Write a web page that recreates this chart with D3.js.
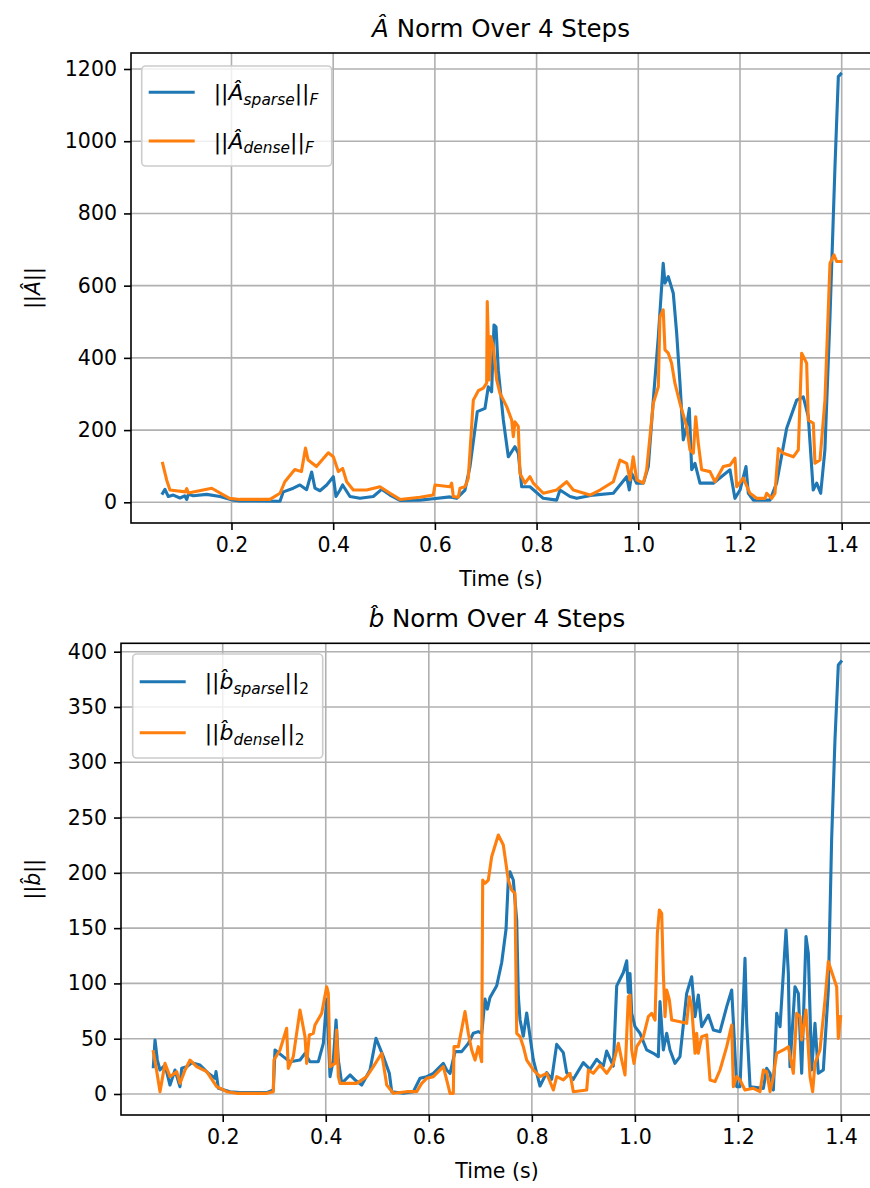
<!DOCTYPE html>
<html><head><meta charset="utf-8">
<script src="https://cdn.jsdelivr.net/npm/d3@7"></script>
<style>body{margin:0;background:#fff;} svg text{font-family:"DejaVu Sans",sans-serif;fill:#000;}</style>
</head><body><svg id="c" width="870" height="1188"></svg>
<script>
// ---------- DATA ----------
const xTicks = [0.2, 0.4, 0.6, 0.8, 1.0, 1.2, 1.4];
const aYTicks = [0, 200, 400, 600, 800, 1000, 1200];
const bYTicks = [0, 50, 100, 150, 200, 250, 300, 350, 400];

const aSparseT = [0.0646,0.0692,0.0758,0.0856,0.0987,0.108,0.112,0.1151,0.1249,0.1512,0.1774,0.2036,0.2167,0.2954,0.3019,0.3216,0.3347,0.3478,0.3577,0.3642,0.374,0.3872,0.4003,0.4055,0.4134,0.4186,0.433,0.4527,0.4789,0.4953,0.5117,0.5314,0.5707,0.5969,0.6297,0.6428,0.6592,0.669,0.6834,0.6985,0.705,0.7116,0.7162,0.7202,0.7247,0.7346,0.7444,0.7575,0.764,0.7707,0.787,0.8132,0.8395,0.846,0.8657,0.8788,0.9115,0.9509,0.9772,0.9823,0.987,0.9968,1.010,1.0197,1.0295,1.0394,1.049,1.0525,1.059,1.0688,1.0755,1.082,1.0885,1.095,1.1003,1.105,1.1115,1.1213,1.1475,1.1803,1.190,1.200,1.2118,1.2164,1.2262,1.259,1.272,1.2918,1.3115,1.3245,1.3343,1.344,1.3508,1.3587,1.367,1.377,1.3868,1.3934,1.398];
const aSparseV = [25,36,16,20,12,18,8,22,18,22,16,6,4,3,29,39,48,35,84,39,32,48,71,16,34,48,16,11,16,36,20,5,6,10,15,11,34,99,251,260,320,306,491,486,366,228,126,154,136,43,43,11,6,34,16,11,20,25,71,34,80,53,53,99,283,459,662,607,625,579,468,330,173,210,260,90,108,53,53,90,11,34,99,25,6,6,53,205,283,292,237,34,53,25,145,514,930,1179,1186];

const aDenseT = [0.0646,0.0725,0.079,0.1093,0.112,0.115,0.1612,0.1961,0.2167,0.2757,0.2954,0.3049,0.3245,0.3376,0.3455,0.3507,0.3671,0.3904,0.4003,0.4101,0.4186,0.4265,0.4396,0.4658,0.492,0.5117,0.5314,0.5707,0.5969,0.6002,0.6297,0.633,0.6362,0.646,0.6494,0.6592,0.6657,0.6756,0.6854,0.6952,0.7018,0.703,0.707,0.7097,0.7149,0.7215,0.728,0.7412,0.751,0.7542,0.7575,0.764,0.7673,0.7772,0.787,0.7935,0.8132,0.8395,0.8591,0.8722,0.905,0.9247,0.9509,0.964,0.9772,0.9837,0.990,0.997,1.010,1.0164,1.0295,1.0394,1.0426,1.049,1.0525,1.059,1.0655,1.072,1.082,1.095,1.1017,1.1082,1.1129,1.118,1.1246,1.141,1.1508,1.1672,1.1803,1.1902,1.1935,1.2065,1.2196,1.2328,1.2492,1.2525,1.2623,1.2688,1.2754,1.2852,1.3049,1.3147,1.3213,1.3311,1.3343,1.3442,1.3475,1.3573,1.3671,1.377,1.3849,1.3901,1.3986];
const aDenseV = [108,62,34,29,38,26,39,11,8,8,25,57,91,85,150,117,99,137,126,85,94,57,34,34,43,25,8,14,20,48,43,53,16,14,39,43,67,283,309,316,330,556,339,459,431,339,302,265,228,182,223,210,80,53,71,53,25,34,57,34,20,34,57,117,108,62,126,62,53,89,274,320,514,533,422,413,385,330,274,210,145,136,237,164,90,85,57,99,103,122,43,67,25,11,11,25,11,25,149,136,126,145,413,385,228,219,108,117,283,662,685,667,667];

const bSparseT = [0.0654,0.0686,0.0731,0.0783,0.088,0.0977,0.1074,0.1171,0.1204,0.1301,0.1398,0.1559,0.1721,0.1851,0.187,0.1915,0.2142,0.2336,0.2853,0.2982,0.3015,0.3176,0.3306,0.35,0.3597,0.3694,0.3856,0.3953,0.4018,0.4083,0.4147,0.42,0.4244,0.431,0.4471,0.4568,0.4698,0.4859,0.4975,0.5117,0.5234,0.528,0.5506,0.57,0.583,0.5959,0.6088,0.6282,0.6347,0.6412,0.6509,0.6638,0.6767,0.6864,0.6961,0.7027,0.7091,0.7136,0.7188,0.7318,0.7415,0.7499,0.7543,0.7576,0.764,0.7706,0.7738,0.777,0.7834,0.79,0.7964,0.8028,0.8158,0.8288,0.8385,0.8482,0.8611,0.8676,0.8805,0.8999,0.9129,0.9258,0.9387,0.9452,0.9581,0.9647,0.9776,0.9841,0.9873,0.9905,0.9938,1.0002,1.0099,1.0229,1.0358,1.0455,1.0487,1.0552,1.0617,1.0681,1.0778,1.0875,1.1005,1.1102,1.1167,1.1231,1.1296,1.1426,1.1523,1.1652,1.1782,1.1879,1.1976,1.204,1.2137,1.217,1.2235,1.2493,1.2558,1.2623,1.2687,1.2752,1.2817,1.2933,1.2978,1.301,1.3107,1.3172,1.3237,1.3321,1.3366,1.3431,1.3495,1.356,1.3657,1.3754,1.3818,1.3883,1.3948,1.4];
const bSparseV = [24.7,48.8,30.7,21.7,26.2,8.1,21.7,6.6,23.2,24.7,28.3,26.2,18.7,14.2,20.2,5.1,2.1,1.2,1.2,3.6,39.8,33.8,29.2,30.7,36.8,29.2,29.2,45.8,85.6,15.7,30.7,66.9,30.7,9.6,17.2,12.7,8.1,21.7,50.4,33.8,18.7,2.1,0.6,2.1,14.2,15.7,18.7,27.7,21.7,18.7,38.3,38.3,45.8,54.9,56.4,54.9,85.8,76.8,87.3,97.9,118.9,149,193.5,201,193.5,157.4,88.2,67.2,52.2,73.3,52.2,31.1,7.2,19.3,13.3,44.9,37.4,19.3,13.3,28.4,22.3,31.4,25.3,38.8,25.3,97.8,109.9,120.4,91.8,109,73,60.9,54.9,39.8,36.8,33.8,83.5,39.8,54.9,39.8,27.7,33.8,91,106,70,89.5,60.9,71.4,57.9,56.4,79,94,6.6,6.6,122.7,63.9,6.6,5.1,23.2,18.7,3.6,73,60.9,148.3,109.2,24.7,97,91,18.7,142.3,127.2,21.7,63.9,18.7,21.7,94,229.7,320.2,388,391];

const bDenseT = [0.0654,0.0705,0.0783,0.088,0.0977,0.1107,0.1171,0.1269,0.1366,0.1495,0.1689,0.1883,0.2077,0.2271,0.2853,0.2982,0.2995,0.3112,0.3241,0.3273,0.337,0.35,0.3597,0.3629,0.3681,0.3759,0.3791,0.3921,0.4018,0.405,0.4083,0.418,0.4212,0.4244,0.4277,0.4601,0.4795,0.4924,0.5086,0.5183,0.5312,0.5571,0.5765,0.5862,0.5959,0.6088,0.6282,0.6347,0.6412,0.6476,0.6489,0.6573,0.6703,0.6767,0.6832,0.6897,0.6961,0.7026,0.7046,0.7091,0.7155,0.722,0.7349,0.7446,0.7543,0.7608,0.7673,0.7706,0.777,0.7835,0.79,0.8029,0.8158,0.8288,0.8417,0.8482,0.8611,0.8741,0.8805,0.9064,0.9097,0.9193,0.9323,0.9452,0.9582,0.9679,0.9744,0.9808,0.9873,0.9905,0.9938,0.9983,1.0035,1.0164,1.0261,1.0326,1.0391,1.0436,1.0475,1.052,1.0552,1.0585,1.0617,1.0669,1.0714,1.0875,1.1005,1.1057,1.1102,1.1134,1.1167,1.1199,1.1231,1.1296,1.1393,1.1458,1.1555,1.1652,1.1782,1.1879,1.1911,1.1976,1.204,1.2137,1.2299,1.2428,1.2493,1.2558,1.2623,1.2687,1.2752,1.2881,1.2978,1.3075,1.314,1.3205,1.3237,1.3321,1.3399,1.345,1.3495,1.3592,1.369,1.3754,1.3851,1.3916,1.3948,1.3993];
const bDenseV = [38.3,24.7,2.1,27.7,15.7,20.2,9.6,21.7,30.7,24.7,20.2,6.6,2.1,0.6,0.6,2.1,30.7,39.8,59.4,23.2,33.8,76,51.9,27.7,53.4,54.9,62.4,72.9,97,91,24.7,27.7,57.9,15.7,9.6,9.6,15.7,24.7,36.8,8.1,0.6,2.1,2.1,9.6,14.2,15.7,24.7,12.7,0.6,0.6,42.8,42.8,74.5,54.9,39.8,30.7,42.8,29.2,193.5,190.5,193.5,214.6,234.2,225.2,193.5,184.5,181.5,54.9,51.9,42.8,30.7,21.7,15.7,18.7,3.6,15.7,12.7,18.7,2.1,3.6,21.7,18.7,26.2,18.7,27.7,45.8,30.7,17.2,88,89.5,39.8,27.7,42.8,51.9,70,73,66.9,145.3,166.4,163.4,109.2,70,94,85,66.9,65.4,63.9,88,79,57.9,36.8,54.9,36.8,51.9,53.4,12.7,11.2,21.7,42.8,62.4,6.6,15.7,12.7,3.6,5.1,2.1,21.7,20.2,2.1,15.7,36.8,39.8,42.8,18.7,73,70,48.8,76,15.7,2.1,27.7,39.8,85,119.7,106,97,50.3,70];

// ---------- DRAWING ----------
const svg = d3.select("#c");
const BLUE = "#1f77b4", ORANGE = "#ff7f0e";
const TICK_FS = 20.5, LABEL_FS = 20.5, TITLE_FS = 24.5, LEG_FS = 22;

// builds one <text> with tspans (sub/superscript via dy)
function mathText(parent, pieces, fs) {
  const t = parent.append("text").attr("xml:space", "preserve").attr("font-size", fs);
  let cur = 0;
  pieces.forEach(p => {
    const f = fs * (p.scale || 1);
    const target = p.dy ? p.dy * fs : 0;
    t.append("tspan").attr("font-size", f).attr("font-style", p.italic ? "italic" : "normal")
      .attr("dy", target - cur).text(p.t);
    cur = target;
  });
  return { g: t, width: t.node().getComputedTextLength() };
}

function panel(cfg) {
  const { left, top, right, bottom, xDom, yDom, yTicks, series } = cfg;
  const x = d3.scaleLinear().domain(xDom).range([left, right]);
  const y = d3.scaleLinear().domain(yDom).range([bottom, top]);
  const g = svg.append("g");
  const id = "clip" + Math.round(top);
  svg.append("defs").append("clipPath").attr("id", id).append("rect")
    .attr("x", left).attr("y", top).attr("width", right - left).attr("height", bottom - top);

  // grid
  g.append("g").selectAll("line").data(xTicks).join("line")
    .attr("x1", d => x(d)).attr("x2", d => x(d)).attr("y1", top).attr("y2", bottom)
    .attr("stroke", "#b0b0b0").attr("stroke-width", 1.6);
  g.append("g").selectAll("line").data(yTicks).join("line")
    .attr("x1", left).attr("x2", right).attr("y1", d => y(d)).attr("y2", d => y(d))
    .attr("stroke", "#b0b0b0").attr("stroke-width", 1.6);

  // series
  const line = d3.line().x(d => x(d[0])).y(d => y(d[1]));
  series.forEach(s => {
    const pts = s.t.map((t, i) => [t, s.v[i]]);
    g.append("path").attr("d", line(pts)).attr("fill", "none")
      .attr("stroke", s.color).attr("stroke-width", 3.1)
      .attr("stroke-linejoin", "round").attr("stroke-linecap", "square")
      .attr("clip-path", `url(#${id})`);
  });

  // axes
  const xa = g.append("g").attr("transform", `translate(0,${bottom})`)
    .call(d3.axisBottom(x).tickValues(xTicks).tickFormat(d3.format(".1f")).tickSize(7).tickPadding(7));
  const ya = g.append("g").attr("transform", `translate(${left},0)`)
    .call(d3.axisLeft(y).tickValues(yTicks).tickFormat(d3.format("d")).tickSize(7).tickPadding(7));
  [xa, ya].forEach(a => {
    a.attr("font-family", null).attr("font-size", null);
    a.select(".domain").remove();
    a.selectAll(".tick line").attr("stroke", "#000").attr("stroke-width", 1.6);
    a.selectAll(".tick text").attr("font-size", TICK_FS).attr("fill", "#000");
  });

  // spines
  g.append("rect").attr("x", left).attr("y", top).attr("width", right - left).attr("height", bottom - top)
    .attr("fill", "none").attr("stroke", "#000").attr("stroke-width", 1.6);

  // title
  const tt = mathText(g, cfg.title, TITLE_FS);
  tt.g.attr("transform", `translate(${cfg.titleX - tt.width / 2},${cfg.titleY})`);

  // x label
  g.append("text").attr("x", cfg.titleX).attr("y", bottom + 63).attr("text-anchor", "middle")
    .attr("font-size", LABEL_FS).text("Time (s)");

  // y label
  const yl = mathText(g, cfg.ylabel, LABEL_FS);
  yl.g.attr("transform", `translate(40,${(top + bottom) / 2}) rotate(-90) translate(${-yl.width / 2},0)`);

  // legend
  const L = cfg.legend;
  g.append("rect").attr("x", L.x).attr("y", L.y).attr("width", L.w).attr("height", L.h)
    .attr("rx", 4).attr("fill", "#fff").attr("fill-opacity", 0.8)
    .attr("stroke", "#cccccc").attr("stroke-width", 1.6);
  L.items.forEach((it, i) => {
    const yy = L.rowY[i];
    g.append("line").attr("x1", L.x + 7).attr("x2", L.x + 53).attr("y1", yy).attr("y2", yy)
      .attr("stroke", it.color).attr("stroke-width", 3.1);
    const m = mathText(g, it.pieces, LEG_FS);
    m.g.attr("transform", `translate(${L.x + 72},${yy + 7.5})`);
  });
}

const sub = (t, it = true) => ({ t, italic: it, scale: 0.7, dy: 0.22 });
const A_HAT = "Â", B_HAT = "b\u0302";

panel({
  left: 131, top: 53, right: 875, bottom: 523,
  xDom: [0.0024, 1.4655], yDom: [-57.3, 1244.3], yTicks: aYTicks,
  series: [{ t: aSparseT, v: aSparseV, color: BLUE }, { t: aDenseT, v: aDenseV, color: ORANGE }],
  title: [{ t: A_HAT, italic: true }, { t: " Norm Over 4 Steps" }], titleX: 501, titleY: 37,
  ylabel: [{ t: "||" }, { t: A_HAT, italic: true }, { t: "||" }],
  legend: { x: 141.7, y: 66, w: 190, h: 100, rowY: [92.3, 141],
    items: [
      { color: BLUE, pieces: [{ t: "||" }, { t: A_HAT, italic: true }, sub("sparse"), { t: "||" }, sub("F")] },
      { color: ORANGE, pieces: [{ t: "||" }, { t: A_HAT, italic: true }, sub("dense"), { t: "||" }, sub("F")] }
    ] }
});

panel({
  left: 121, top: 643.3, right: 875, bottom: 1115,
  xDom: [0.0026, 1.466], yDom: [-19, 407.6], yTicks: bYTicks,
  series: [{ t: bSparseT, v: bSparseV, color: BLUE }, { t: bDenseT, v: bDenseV, color: ORANGE }],
  title: [{ t: B_HAT, italic: true }, { t: " Norm Over 4 Steps" }], titleX: 497, titleY: 627,
  ylabel: [{ t: "||" }, { t: B_HAT, italic: true }, { t: "||" }],
  legend: { x: 132.7, y: 654, w: 190, h: 104, rowY: [681.7, 732.7],
    items: [
      { color: BLUE, pieces: [{ t: "||" }, { t: B_HAT, italic: true }, sub("sparse"), { t: "||" }, sub("2", false)] },
      { color: ORANGE, pieces: [{ t: "||" }, { t: B_HAT, italic: true }, sub("dense"), { t: "||" }, sub("2", false)] }
    ] }
});
</script></body></html>
